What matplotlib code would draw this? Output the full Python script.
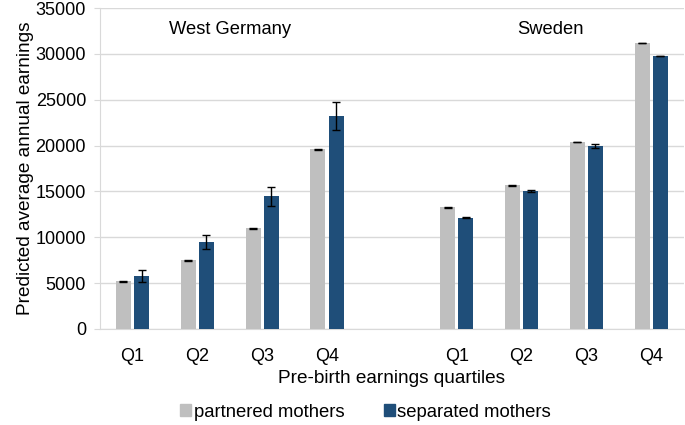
import numpy as np
import matplotlib.pyplot as plt
from matplotlib.patches import Patch

plt.rcParams['font.family'] = ['Liberation Sans', 'DejaVu Sans']

# categories (blank slot between countries)
labels = ['Q1', 'Q2', 'Q3', 'Q4', '', 'Q1', 'Q2', 'Q3', 'Q4']

# West Germany
wg_partnered = [5200, 7500, 11000, 19600]
wg_separated = [5800, 9500, 14450, 23200]
wg_partnered_err = [60, 60, 60, 60]
wg_separated_err = [650, 760, 1000, 1550]

# Sweden
se_partnered = [13250, 15650, 20400, 31150]
se_separated = [12150, 15050, 19950, 29750]
se_partnered_err = [40, 40, 40, 0]
se_separated_err = [60, 60, 180, 0]

partnered = wg_partnered + [np.nan] + se_partnered
separated = wg_separated + [np.nan] + se_separated
partnered_err = wg_partnered_err + [0] + se_partnered_err
separated_err = wg_separated_err + [0] + se_separated_err

gray = '#BFBFBF'
blue = '#1F4E79'

fig = plt.figure(figsize=(6.85, 4.25), dpi=100)
ax = fig.add_axes([0.146, 0.226, 0.852, 0.755])

x = np.arange(len(labels))
w = 0.23
gap = 0.025
ax.bar(x - w/2 - gap, partnered, w, color=gray, zorder=3)
ax.bar(x + w/2 + gap, separated, w, color=blue, zorder=3)
ax.errorbar(x - w/2 - gap, partnered, yerr=partnered_err, fmt='none',
            ecolor='black', elinewidth=1, capsize=3, capthick=1, zorder=4)
ax.errorbar(x + w/2 + gap, separated, yerr=separated_err, fmt='none',
            ecolor='black', elinewidth=1, capsize=3, capthick=1, zorder=4)

ax.set_xlim(-0.5, len(labels) - 0.5)
ax.set_ylim(0, 35000)
ax.set_yticks(np.arange(0, 35001, 5000))
ax.set_xticks(x)
ax.set_xticklabels(labels, fontsize=13)
ax.tick_params(axis='y', labelsize=13, length=4, color='#D9D9D9', pad=6)
ax.tick_params(axis='x', length=0, pad=14)
ax.grid(axis='y', color='#D9D9D9', linewidth=1, zorder=0)

for s in ['top', 'right']:
    ax.spines[s].set_visible(False)
for s in ['left', 'bottom']:
    ax.spines[s].set_color('#D9D9D9')

ax.text(1.5, 32700, 'West Germany', ha='center', va='center', fontsize=13.2)
ax.text(6.45, 32700, 'Sweden', ha='center', va='center', fontsize=13.2)

ax.set_ylabel('Predicted average annual earnings', fontsize=13.7, labelpad=1)
ax.set_xlabel('Pre-birth earnings quartiles', fontsize=13.7, labelpad=3)

handles = [Patch(color=gray, label='partnered mothers'),
           Patch(color=blue, label='separated mothers')]
fig.legend(handles=handles, loc='center', bbox_to_anchor=(0.534, 0.03),
           ncol=2, frameon=False, fontsize=13.3, handlelength=0.6,
           handleheight=0.6, handletextpad=0.15, columnspacing=2.1)

fig.savefig('out.png', dpi=100)
